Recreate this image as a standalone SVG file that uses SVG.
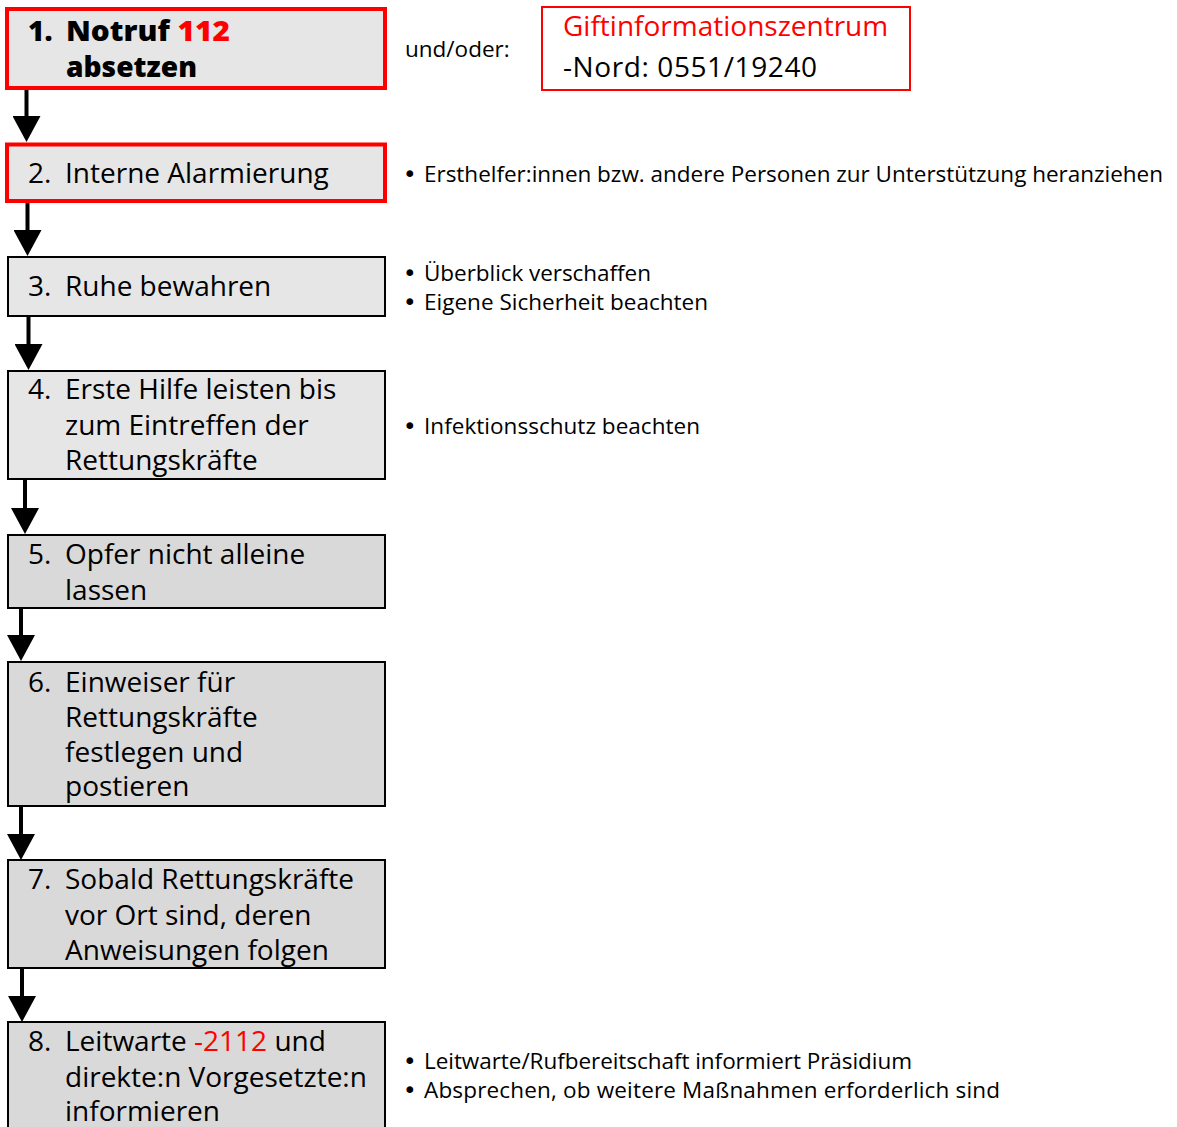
<svg xmlns="http://www.w3.org/2000/svg" width="1177" height="1127" viewBox="0 0 1177 1127">
  <style>
    .box { stroke: #000; stroke-width: 2; }
    .light { fill: #e6e6e6; }
    .dark { fill: #d9d9d9; }
    .alert { stroke: #ff0000; stroke-width: 4; }
    .step { font-family: "Open Sans", "Noto Sans", sans-serif; font-size: 28px; fill: #000; }
    .bold { font-weight: 800; }
    .note { font-family: "Open Sans", "Noto Sans", sans-serif; font-size: 22.5px; fill: #000; }
    .dot { font-family: "DejaVu Sans", sans-serif; font-size: 23px; fill: #000; }
    .red { fill: #ff0000; }
    .conn { stroke: #000; stroke-width: 4; fill: none; marker-end: url(#head); }
  </style>
  <defs>
    <marker id="head" markerUnits="userSpaceOnUse" viewBox="0 0 26 28" markerWidth="26" markerHeight="28" refX="0" refY="14" orient="auto">
      <path d="M0,0 L26,14 L0,28 Z" fill="#000"/>
    </marker>
  </defs>

  <!-- connectors between the steps -->
  <g id="connectors">
    <line class="conn" x1="26.5" y1="90" x2="26.5" y2="116"/>
    <line class="conn" x1="27.5" y1="203" x2="27.5" y2="230"/>
    <line class="conn" x1="28.5" y1="317" x2="28.5" y2="344"/>
    <line class="conn" x1="25" y1="480" x2="25" y2="508"/>
    <line class="conn" x1="21" y1="609" x2="21" y2="635"/>
    <line class="conn" x1="21" y1="807" x2="21" y2="834"/>
    <line class="conn" x1="22" y1="969" x2="22" y2="996"/>
  </g>

  <g id="step1">
    <rect class="light alert" x="7" y="9" width="378" height="79"/>
    <text class="step bold" x="28" y="41">1.</text>
    <text class="step bold" x="66" y="41" textLength="164" lengthAdjust="spacingAndGlyphs">Notruf <tspan class="red">112</tspan></text>
    <text class="step bold" x="66" y="77" textLength="131" lengthAdjust="spacingAndGlyphs">absetzen</text>
  </g>

  <g id="or-label">
    <text class="note" x="405" y="57">und/oder:</text>
  </g>

  <g id="poison-centre">
    <rect x="542" y="7" width="368" height="83" fill="#fff" stroke="#ff0000" stroke-width="2"/>
    <text class="step red" x="563" y="36">Giftinformationszentrum</text>
    <text class="step" x="563" y="77" textLength="254">-Nord: 0551/19240</text>
  </g>

  <g id="step2">
    <rect class="light alert" x="7" y="144.5" width="378" height="56.5"/>
    <text class="step" x="28" y="183">2.</text>
    <text class="step" x="65" y="183">Interne Alarmierung</text>
  </g>
  <g id="note2">
    <text class="dot" x="403" y="182">•</text>
    <text class="note" x="424" y="182" textLength="739">Ersthelfer:innen bzw. andere Personen zur Unterstützung heranziehen</text>
  </g>

  <g id="step3">
    <rect class="box light" x="8" y="257" width="377" height="59"/>
    <text class="step" x="28" y="296">3.</text>
    <text class="step" x="65" y="296">Ruhe bewahren</text>
  </g>
  <g id="note3">
    <text class="dot" x="403" y="281">•</text>
    <text class="note" x="424" y="281" textLength="227">Überblick verschaffen</text>
    <text class="dot" x="403" y="310">•</text>
    <text class="note" x="424" y="310" textLength="284">Eigene Sicherheit beachten</text>
  </g>

  <g id="step4">
    <rect class="box light" x="8" y="371" width="377" height="108"/>
    <text class="step" x="28" y="399">4.</text>
    <text class="step" x="65" y="399">Erste Hilfe leisten bis</text>
    <text class="step" x="65" y="435">zum Eintreffen der</text>
    <text class="step" x="65" y="470">Rettungskräfte</text>
  </g>
  <g id="note4">
    <text class="dot" x="403" y="434">•</text>
    <text class="note" x="424" y="434" textLength="276">Infektionsschutz beachten</text>
  </g>

  <g id="step5">
    <rect class="box dark" x="8" y="535" width="377" height="73"/>
    <text class="step" x="28" y="564">5.</text>
    <text class="step" x="65" y="564">Opfer nicht alleine</text>
    <text class="step" x="65" y="600">lassen</text>
  </g>

  <g id="step6">
    <rect class="box dark" x="8" y="662" width="377" height="144"/>
    <text class="step" x="28" y="692">6.</text>
    <text class="step" x="65" y="692">Einweiser für</text>
    <text class="step" x="65" y="727">Rettungskräfte</text>
    <text class="step" x="65" y="762">festlegen und</text>
    <text class="step" x="65" y="796">postieren</text>
  </g>

  <g id="step7">
    <rect class="box dark" x="8" y="860" width="377" height="108"/>
    <text class="step" x="28" y="889">7.</text>
    <text class="step" x="65" y="889">Sobald Rettungskräfte</text>
    <text class="step" x="65" y="925">vor Ort sind, deren</text>
    <text class="step" x="65" y="960">Anweisungen folgen</text>
  </g>

  <g id="step8">
    <rect class="box dark" x="8" y="1022" width="377" height="120"/>
    <text class="step" x="28" y="1051">8.</text>
    <text class="step" x="65" y="1051">Leitwarte <tspan class="red">-2112</tspan> und</text>
    <text class="step" x="65" y="1087">direkte:n Vorgesetzte:n</text>
    <text class="step" x="65" y="1121">informieren</text>
  </g>
  <g id="note8">
    <text class="dot" x="403" y="1069">•</text>
    <text class="note" x="424" y="1069" textLength="488">Leitwarte/Rufbereitschaft informiert Präsidium</text>
    <text class="dot" x="403" y="1098">•</text>
    <text class="note" x="424" y="1098" textLength="576">Absprechen, ob weitere Maßnahmen erforderlich sind</text>
  </g>
</svg>
